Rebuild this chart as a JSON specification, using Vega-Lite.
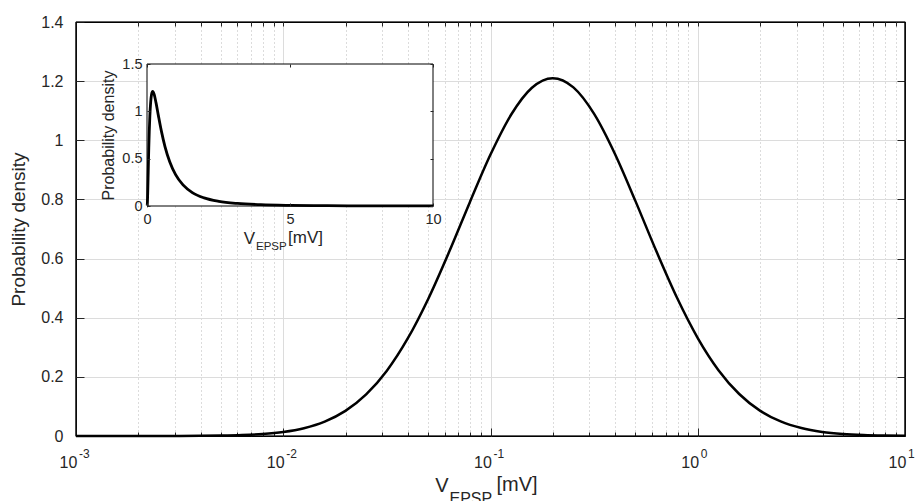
{
  "$schema": "https://vega.github.io/schema/vega-lite/v6.json",
  "width": 829,
  "height": 414,
  "autosize": "none",
  "padding": {"left": 76, "top": 22, "right": 14, "bottom": 65},
  "background": "white",
  "config": {
    "font": "Liberation Sans",
    "view": {"stroke": "#000000", "strokeWidth": 1.2},
    "axis": {"domain": false, "labelColor": "#262626", "tickColor": "#262626", "titleColor": "#262626", "titleFontWeight": "normal", "labelFont": "Liberation Sans", "titleFont": "Liberation Sans", "labelFlush": false, "labelOverlap": false}
  },
  "datasets": {
    "pdf": [
      {"v": 0.001, "p": 0.000001},
      {"v": 0.0012589, "p": 0.0000032},
      {"v": 0.0015849, "p": 0.00001},
      {"v": 0.0019953, "p": 0.00003},
      {"v": 0.0025119, "p": 0.000084},
      {"v": 0.0031623, "p": 0.00022},
      {"v": 0.0039811, "p": 0.00056},
      {"v": 0.0050119, "p": 0.00135},
      {"v": 0.0063096, "p": 0.00308},
      {"v": 0.0079433, "p": 0.00666},
      {"v": 0.01, "p": 0.01362},
      {"v": 0.012589, "p": 0.02643},
      {"v": 0.015849, "p": 0.04866},
      {"v": 0.019953, "p": 0.0849},
      {"v": 0.025119, "p": 0.1406},
      {"v": 0.031623, "p": 0.2208},
      {"v": 0.039811, "p": 0.3289},
      {"v": 0.050119, "p": 0.4644},
      {"v": 0.063096, "p": 0.6221},
      {"v": 0.079433, "p": 0.79},
      {"v": 0.1, "p": 0.9517},
      {"v": 0.12589, "p": 1.0871},
      {"v": 0.15849, "p": 1.1777},
      {"v": 0.19953, "p": 1.21},
      {"v": 0.25119, "p": 1.179},
      {"v": 0.31623, "p": 1.0894},
      {"v": 0.39811, "p": 0.9547},
      {"v": 0.50119, "p": 0.7934},
      {"v": 0.63096, "p": 0.6253},
      {"v": 0.79433, "p": 0.4674},
      {"v": 1, "p": 0.3313},
      {"v": 1.2589, "p": 0.2227},
      {"v": 1.5849, "p": 0.142},
      {"v": 1.9953, "p": 0.0859},
      {"v": 2.5119, "p": 0.04923},
      {"v": 3.1623, "p": 0.02677},
      {"v": 3.9811, "p": 0.01381},
      {"v": 5.0119, "p": 0.00676},
      {"v": 6.3096, "p": 0.00313},
      {"v": 7.9433, "p": 0.00138},
      {"v": 10, "p": 0.00057}
    ],
    "exps": [
      {"v": 0.001, "e": "-3"},
      {"v": 0.01, "e": "-2"},
      {"v": 0.1, "e": "-1"},
      {"v": 1, "e": "0"},
      {"v": 10, "e": "1"}
    ],
    "frame": [
      {"a": 0.001, "b": 10, "c": 0, "d": 0},
      {"a": 0.001, "b": 10, "c": 1.4, "d": 1.4},
      {"a": 0.001, "b": 0.001, "c": 0, "d": 1.4},
      {"a": 10, "b": 10, "c": 0, "d": 1.4}
    ],
    "insetbox": [{"x0": 0, "x1": 10, "y0": 0, "y1": 1.5}]
  },
  "data": {"name": "pdf"},
  "layer": [
    {
      "mark": {"type": "line", "color": "#000000", "strokeWidth": 2.5, "interpolate": "monotone"},
      "encoding": {
        "x": {
          "field": "v", "type": "quantitative",
          "scale": {"type": "log", "domain": [0.001, 10], "nice": false},
          "axis": {
            "orient": "bottom", "title": null,
            "values": [0.001,0.002,0.003,0.004,0.005,0.006,0.007,0.008,0.009,0.01,0.02,0.03,0.04,0.05,0.06,0.07,0.08,0.09,0.1,0.2,0.3,0.4,0.5,0.6,0.7,0.8,0.9,1,2,3,4,5,6,7,8,9,10],
            "labelExpr": "indexof([0.001,0.01,0.1,1,10], datum.value) >= 0 ? '10' : ''",
            "labelFontSize": 16, "labelPadding": 26, "labelOffset": -8,
            "grid": true,
            "gridOpacity": {"condition": {"test": "datum.value == 0.001 || datum.value == 10", "value": 0}, "value": 1},
            "gridColor": {"condition": {"test": "indexof([0.001,0.01,0.1,1,10], datum.value) >= 0", "value": "#dcdcdc"}, "value": "#b8b8b8"},
            "gridDash": {"condition": {"test": "indexof([0.001,0.01,0.1,1,10], datum.value) >= 0", "value": []}, "value": [1, 3]},
            "tickSize": {"condition": {"test": "indexof([0.001,0.01,0.1,1,10], datum.value) >= 0", "value": -8}, "value": -4}
          }
        },
        "y": {
          "field": "p", "type": "quantitative",
          "scale": {"domain": [0, 1.4], "nice": false},
          "axis": {
            "orient": "left", "title": "Probability density", "titleFontSize": 19, "titlePadding": 12,
            "values": [0, 0.2, 0.4, 0.6, 0.8, 1, 1.2, 1.4], "format": ".1~f",
            "labelFontSize": 16, "labelPadding": 21, "tickSize": -8,
            "grid": true, "gridColor": "#dcdcdc",
            "gridOpacity": {"condition": {"test": "datum.value == 0 || datum.value == 1.4", "value": 0}, "value": 1}
          }
        }
      }
    },
    {
      "mark": {"type": "point", "opacity": 0},
      "encoding": {
        "x": {"field": "v", "type": "quantitative", "scale": {"type": "log", "domain": [0.001, 10], "nice": false},
          "axis": {
            "orient": "top", "title": null, "labels": false, "grid": false,
            "values": [0.001,0.002,0.003,0.004,0.005,0.006,0.007,0.008,0.009,0.01,0.02,0.03,0.04,0.05,0.06,0.07,0.08,0.09,0.1,0.2,0.3,0.4,0.5,0.6,0.7,0.8,0.9,1,2,3,4,5,6,7,8,9,10],
            "tickSize": -4
          }},
        "y": {"field": "p", "type": "quantitative", "scale": {"domain": [0, 1.4], "nice": false},
          "axis": {"orient": "right", "title": null, "labels": false, "grid": false, "values": [0, 0.2, 0.4, 0.6, 0.8, 1, 1.2, 1.4], "tickSize": -8}}
      }
    },
    {
      "data": {"name": "exps"},
      "mark": {"type": "text", "align": "left", "baseline": "alphabetic", "fontSize": 12, "color": "#262626", "dx": 3, "dy": 22},
      "encoding": {
        "text": {"field": "e"},
        "x": {"field": "v", "type": "quantitative", "scale": {"type": "log", "domain": [0.001, 10], "nice": false}, "axis": null},
        "y": {"datum": 0, "type": "quantitative", "scale": {"domain": [0, 1.4], "nice": false}, "axis": null}
      }
    },
    {
      "data": {"values": [{"t": "V"}]},
      "mark": {"type": "text", "align": "right", "baseline": "alphabetic", "fontSize": 20, "color": "#262626", "dx": -42, "dy": 56},
      "encoding": {
        "text": {"field": "t"},
        "x": {"datum": 0.1, "type": "quantitative", "scale": {"type": "log", "domain": [0.001, 10], "nice": false}, "axis": null},
        "y": {"datum": 0, "type": "quantitative", "scale": {"domain": [0, 1.4], "nice": false}, "axis": null}
      }
    },
    {
      "data": {"values": [{"t": "EPSP"}]},
      "mark": {"type": "text", "align": "left", "baseline": "alphabetic", "fontSize": 16, "color": "#262626", "dx": -41, "dy": 68},
      "encoding": {
        "text": {"field": "t"},
        "x": {"datum": 0.1, "type": "quantitative", "scale": {"type": "log", "domain": [0.001, 10], "nice": false}, "axis": null},
        "y": {"datum": 0, "type": "quantitative", "scale": {"domain": [0, 1.4], "nice": false}, "axis": null}
      }
    },
    {
      "data": {"values": [{"t": "[mV]"}]},
      "mark": {"type": "text", "align": "left", "baseline": "alphabetic", "fontSize": 20, "color": "#262626", "dx": 6, "dy": 55},
      "encoding": {
        "text": {"field": "t"},
        "x": {"datum": 0.1, "type": "quantitative", "scale": {"type": "log", "domain": [0.001, 10], "nice": false}, "axis": null},
        "y": {"datum": 0, "type": "quantitative", "scale": {"domain": [0, 1.4], "nice": false}, "axis": null}
      }
    },
    {
      "data": {"name": "insetbox"},
      "mark": {"type": "rect", "fill": "#ffffff", "stroke": "#000000", "strokeWidth": 1},
      "encoding": {
        "x": {"field": "x0", "type": "quantitative", "scale": {"domain": [0, 10], "range": [71, 357], "nice": false, "zero": false},
          "axis": {"orient": "bottom", "offset": -230, "title": null, "values": [0, 5, 10], "format": "d", "labelFontSize": 14.5, "labelPadding": 9, "tickSize": -3, "grid": false, "zindex": 1}},
        "x2": {"field": "x1"},
        "y": {"field": "y0", "type": "quantitative", "scale": {"domain": [0, 1.5], "range": [184, 42], "nice": false, "zero": false},
          "axis": {"orient": "left", "offset": -71, "title": "Probability density", "titleFontSize": 16, "titlePadding": 5, "values": [0, 0.5, 1, 1.5], "format": ".1~f", "labelFontSize": 14.5, "labelPadding": 8, "tickSize": -3, "grid": false, "zindex": 1}},
        "y2": {"field": "y1"}
      }
    },
    {
      "mark": {"type": "line", "color": "#000000", "strokeWidth": 2.8, "interpolate": "monotone"},
      "encoding": {
        "x": {"field": "v", "type": "quantitative", "scale": {"domain": [0, 10], "range": [71, 357], "nice": false, "zero": false}, "axis": null},
        "y": {"field": "p", "type": "quantitative", "scale": {"domain": [0, 1.5], "range": [184, 42], "nice": false, "zero": false}, "axis": null}
      }
    },
    {
      "data": {"name": "insetbox"},
      "mark": {"type": "rect", "opacity": 0},
      "encoding": {
        "x": {"field": "x0", "type": "quantitative", "scale": {"domain": [0, 10], "range": [71, 357], "nice": false, "zero": false},
          "axis": {"orient": "top", "offset": -42, "title": null, "labels": false, "values": [0, 5, 10], "tickSize": -3, "grid": false, "zindex": 1}},
        "x2": {"field": "x1"},
        "y": {"field": "y0", "type": "quantitative", "scale": {"domain": [0, 1.5], "range": [184, 42], "nice": false, "zero": false},
          "axis": {"orient": "right", "offset": -472, "title": null, "labels": false, "values": [0, 0.5, 1, 1.5], "tickSize": -3, "grid": false, "zindex": 1}},
        "y2": {"field": "y1"}
      }
    },
    {
      "data": {"values": [{"t": "V"}]},
      "mark": {"type": "text", "align": "right", "baseline": "alphabetic", "fontSize": 17, "color": "#262626", "dx": -35, "dy": 38},
      "encoding": {
        "text": {"field": "t"},
        "x": {"datum": 5, "type": "quantitative", "scale": {"domain": [0, 10], "range": [71, 357], "nice": false, "zero": false}, "axis": null},
        "y": {"datum": 0, "type": "quantitative", "scale": {"domain": [0, 1.5], "range": [184, 42], "nice": false, "zero": false}, "axis": null}
      }
    },
    {
      "data": {"values": [{"t": "EPSP"}]},
      "mark": {"type": "text", "align": "left", "baseline": "alphabetic", "fontSize": 11.5, "color": "#262626", "dx": -34, "dy": 44},
      "encoding": {
        "text": {"field": "t"},
        "x": {"datum": 5, "type": "quantitative", "scale": {"domain": [0, 10], "range": [71, 357], "nice": false, "zero": false}, "axis": null},
        "y": {"datum": 0, "type": "quantitative", "scale": {"domain": [0, 1.5], "range": [184, 42], "nice": false, "zero": false}, "axis": null}
      }
    },
    {
      "data": {"values": [{"t": "[mV]"}]},
      "mark": {"type": "text", "align": "left", "baseline": "alphabetic", "fontSize": 17, "color": "#262626", "dx": -2, "dy": 37},
      "encoding": {
        "text": {"field": "t"},
        "x": {"datum": 5, "type": "quantitative", "scale": {"domain": [0, 10], "range": [71, 357], "nice": false, "zero": false}, "axis": null},
        "y": {"datum": 0, "type": "quantitative", "scale": {"domain": [0, 1.5], "range": [184, 42], "nice": false, "zero": false}, "axis": null}
      }
    },
    {
      "data": {"name": "frame"},
      "mark": {"type": "rule", "color": "#000000", "strokeWidth": 1.2, "clip": false},
      "encoding": {
        "x": {"field": "a", "type": "quantitative", "scale": {"type": "log", "domain": [0.001, 10], "nice": false}, "axis": null},
        "x2": {"field": "b"},
        "y": {"field": "c", "type": "quantitative", "scale": {"domain": [0, 1.4], "nice": false}, "axis": null},
        "y2": {"field": "d"}
      }
    }
  ],
  "resolve": {"scale": {"x": "independent", "y": "independent"}, "axis": {"x": "independent", "y": "independent"}}
}
